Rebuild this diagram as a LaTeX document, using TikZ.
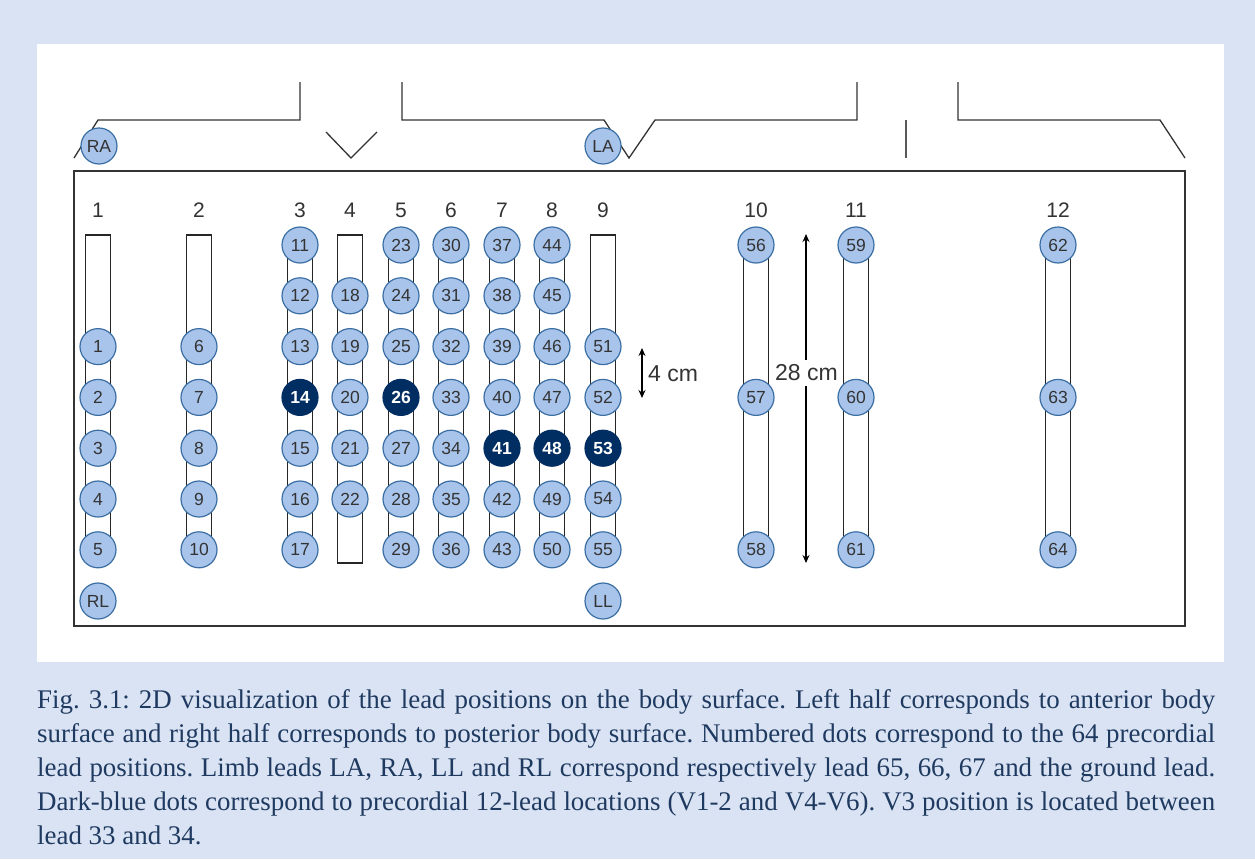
\documentclass[tikz,border=0pt]{standalone}
\usepackage{fontspec}
\setmainfont{Liberation Serif}
\newfontfamily\arialf{Liberation Sans}
\usetikzlibrary{arrows.meta}
\definecolor{bgblue}{HTML}{DAE3F3}
\definecolor{dotfill}{HTML}{A9C4EB}
\definecolor{dotline}{HTML}{3B6EA3}
\definecolor{darknavy}{HTML}{002D62}
\definecolor{numtext}{HTML}{333333}
\definecolor{captext}{HTML}{1F3A60}
\tikzset{
  leaddot/.style={circle, draw=dotline, fill=dotfill, line width=1.2pt, minimum size=36pt, inner sep=0pt, text=numtext, font=\arialf\fontsize{17.5}{17.5}\selectfont},
  darkdot/.style={leaddot, fill=darknavy, draw=darknavy, text=white, font=\arialf\bfseries\fontsize{17.5}{17.5}\selectfont},
  stripbox/.style={draw=black!85, line width=1.3pt, fill=white},
  hdr/.style={font=\arialf\fontsize{21}{21}\selectfont, text=black!80},
  outl/.style={draw=black!80, line width=1.3pt},
  dimarrow/.style={draw=black, line width=1.2pt, {Stealth[length=8pt,width=7pt]}-{Stealth[length=8pt,width=7pt]}},
  dimlabel/.style={font=\arialf\fontsize{23}{23}\selectfont, text=black!80, inner xsep=2pt, inner ysep=5pt}
}
\begin{document}
\begin{tikzpicture}[x=1pt,y=-1pt]
\useasboundingbox (0,0) rectangle (1255,859);
\fill[bgblue] (0,0) rectangle (1255,859);
\fill[white] (37,44) rectangle (1224,662);
% outline of body
\draw[outl] (74,158) -- (98,120) -- (300,120) -- (300,82);
\draw[outl] (326,132) -- (351,158) -- (377,132);
\draw[outl] (402,82) -- (402,120) -- (604,120) -- (629,158) -- (655,120) -- (857,120) -- (857,82);
\draw[outl, draw=black!65] (906,120) -- (906,158);
\draw[outl] (958,82) -- (958,120) -- (1160,120) -- (1185,158);
% frame
\draw[outl] (74,171) rectangle (1185,626);
% headers
\foreach \lab/\x in {1/98,2/199,3/300,4/350,5/401,6/451,7/502,8/552,9/603,10/756,11/856,12/1058}
  \node[hdr] (h\lab) at (\x,210) {\lab};
% strips
\foreach \x/\ya/\yb in {98/235/550,199/235/550,300/245/550,350/235/563,401/245/550,451/245/550,502/245/550,552/245/550,603/235/550,756/245/550,856/245/550,1058/245/550}
  \draw[stripbox] (\x-12.5,\ya) rectangle (\x+12.5,\yb);
% dimensions
\coordinate (a4t) at (642,348);
\coordinate (a4b) at (642,398);
\draw[dimarrow] (a4t) -- (a4b);
\node[dimlabel, anchor=west] (l4) at (646,374) {4 cm};
\coordinate (a28t) at (806,234);
\coordinate (a28b) at (806,563);
\draw[dimarrow] (a28t) -- (a28b);
\node[dimlabel, fill=white] (l28) at (806.5,373) {28 cm};
% anterior dots
\foreach \x/\nfirst/\rfirst/\rlast in {98/1/3/7,199/6/3/7,300/11/1/7,350/18/2/6,401/23/1/7,451/30/1/7,502/37/1/7,552/44/1/7,603/51/3/7}{
  \foreach \r in {\rfirst,...,\rlast}{
    \pgfmathtruncatemacro\n{\nfirst+\r-\rfirst}
    \pgfmathtruncatemacro\dk{(\n==14)||(\n==26)||(\n==41)||(\n==48)||(\n==53)}
    \ifnum\dk=1 \def\sty{darkdot}\else\def\sty{leaddot}\fi
    \node[\sty] (d\n) at (\x,{245+(\r-1)*50.8}) {\n};
  }
}
% posterior dots
\foreach \x/\nfirst in {756/56,856/59,1058/62}{
  \foreach \r/\k in {1/0,4/1,7/2}{
    \pgfmathtruncatemacro\n{\nfirst+\k}
    \node[leaddot] (d\n) at (\x,{245+(\r-1)*50.8}) {\n};
  }
}
% limb leads
\node[leaddot] (RA) at (99,146) {RA};
\node[leaddot] (LA) at (603,146) {LA};
\node[leaddot] (RL) at (98,601) {RL};
\node[leaddot] (LL) at (603,601) {LL};
% caption
\node[anchor=north west, inner sep=0pt, text width=1178pt, align=justify, text=captext,
      font=\fontsize{26.9}{34}\selectfont] (cap) at (37,684.2)
  {\frenchspacing\strut Fig. 3.1: 2D visualization of the lead positions on the body surface. Left half corresponds to anterior body\linebreak
   surface and right half corresponds to posterior body surface. Numbered dots correspond to the 64 precordial\linebreak
   lead positions. Limb leads LA, RA, LL and RL correspond respectively lead 65, 66, 67 and the ground lead.\linebreak
   Dark-blue dots correspond to precordial 12-lead locations (V1-2 and V4-V6). V3 position is located between\linebreak
   lead 33 and 34.};
\end{tikzpicture}
\end{document}
